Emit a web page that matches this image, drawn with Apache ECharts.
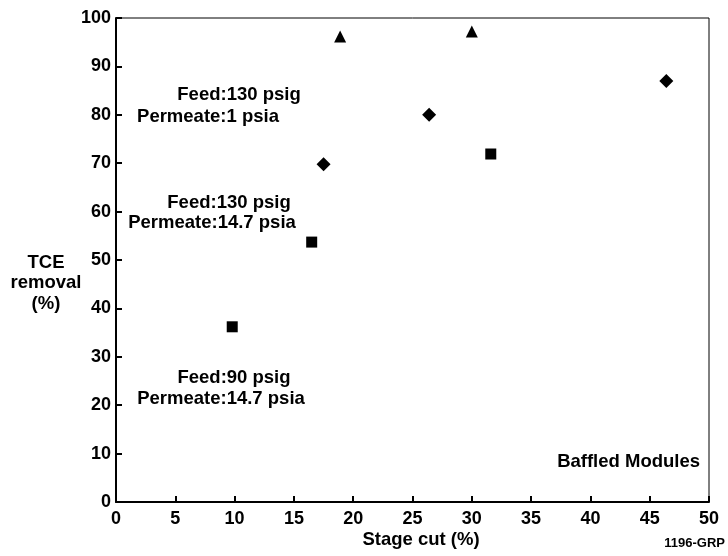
<!DOCTYPE html>
<html lang="en">
<head>
	<meta charset="UTF-8">
	<title>TCE removal vs stage cut</title>
	<style>
		body { margin: 0; background: #fff; }
	</style>
</head>
<body>
	<div id="main" style="width: 728px;height: 556px"></div>

	<script src="https://cdn.jsdelivr.net/npm/echarts@6/dist/echarts.min.js"></script>
	<script type="text/javascript">

	// Feed 130 psig, permeate 1 psia (triangles)
	var triX = [18.9, 30.0];
	var triY = [96.2, 97.2];
	// Feed 130 psig, permeate 14.7 psia (diamonds)
	var diaX = [17.5, 26.4, 46.4];
	var diaY = [69.8, 80.0, 87.0];
	// Feed 90 psig, permeate 14.7 psia (squares)
	var sqX = [9.8, 16.5, 31.6];
	var sqY = [36.2, 53.7, 71.9];

	var xTicks = [0, 5, 10, 15, 20, 25, 30, 35, 40, 45, 50];
	var yTicks = [0, 10, 20, 30, 40, 50, 60, 70, 80, 90, 100];

	function pairs(xs, ys) {
		var out = [];
		for (var i = 0; i < xs.length; i++) {
			out.push([xs[i], ys[i]]);
		}
		return out;
	}

	var font = "'Liberation Sans', Arial, sans-serif";
	var boldText = { fontFamily: font, fontWeight: 'bold', fontSize: 18.5, fill: '#000' };

	function label(text, x, y, extra) {
		var style = Object.assign({}, boldText, { text: text, x: x, y: y, align: 'center', verticalAlign: 'middle' }, extra || {});
		return { type: 'text', style: style };
	}

	var markStyle = { color: '#000', opacity: 1 };

	var myChart = echarts.init(document.getElementById('main'));

	var option = {
		animation: false,
		backgroundColor: '#fff',
		grid: {
			left: 116, right: 19, top: 18, bottom: 54,
			show: true, borderColor: '#000', borderWidth: 1
		},
		xAxis: {
			type: 'value',
			min: xTicks[0], max: xTicks[xTicks.length - 1], interval: 5,
			axisLine: { lineStyle: { color: '#000', width: 2 } },
			axisTick: { inside: true, length: 6, lineStyle: { color: '#000', width: 2 } },
			axisLabel: { color: '#000', fontFamily: font, fontWeight: 'bold', fontSize: 18, margin: 8 },
			splitLine: { show: false }
		},
		yAxis: {
			type: 'value',
			min: yTicks[0], max: yTicks[yTicks.length - 1], interval: 10,
			axisLine: { lineStyle: { color: '#000', width: 2 } },
			axisTick: { inside: true, length: 6, lineStyle: { color: '#000', width: 2 } },
			axisLabel: { color: '#000', fontFamily: font, fontWeight: 'bold', fontSize: 18, margin: 5 },
			splitLine: { show: false }
		},
		series: [
			{ type: 'scatter', symbol: 'triangle', symbolSize: 12, itemStyle: markStyle, data: pairs(triX, triY) },
			{ type: 'scatter', symbol: 'diamond', symbolSize: 14, itemStyle: markStyle, data: pairs(diaX, diaY) },
			{ type: 'scatter', symbol: 'rect', symbolSize: 11, itemStyle: markStyle, data: pairs(sqX, sqY) }
		],
		graphic: [
			label('Feed:130 psig', 239, 95),
			label('Permeate:1 psia', 208, 117),
			label('Feed:130 psig', 229, 203),
			label('Permeate:14.7 psia', 212, 223),
			label('Feed:90 psig', 234, 378),
			label('Permeate:14.7 psia', 221, 399),
			label('Baffled Modules', 700, 462, { align: 'right' }),
			label('Stage cut (%)', 421, 540),
			label('1196-GRP', 725, 543, { align: 'right', fontSize: 13 }),
			label('TCE\nremoval\n(%)', 46, 283, { lineHeight: 20.5 })
		]
	};
	myChart.setOption(option);
	</script>
</body>
</html>
